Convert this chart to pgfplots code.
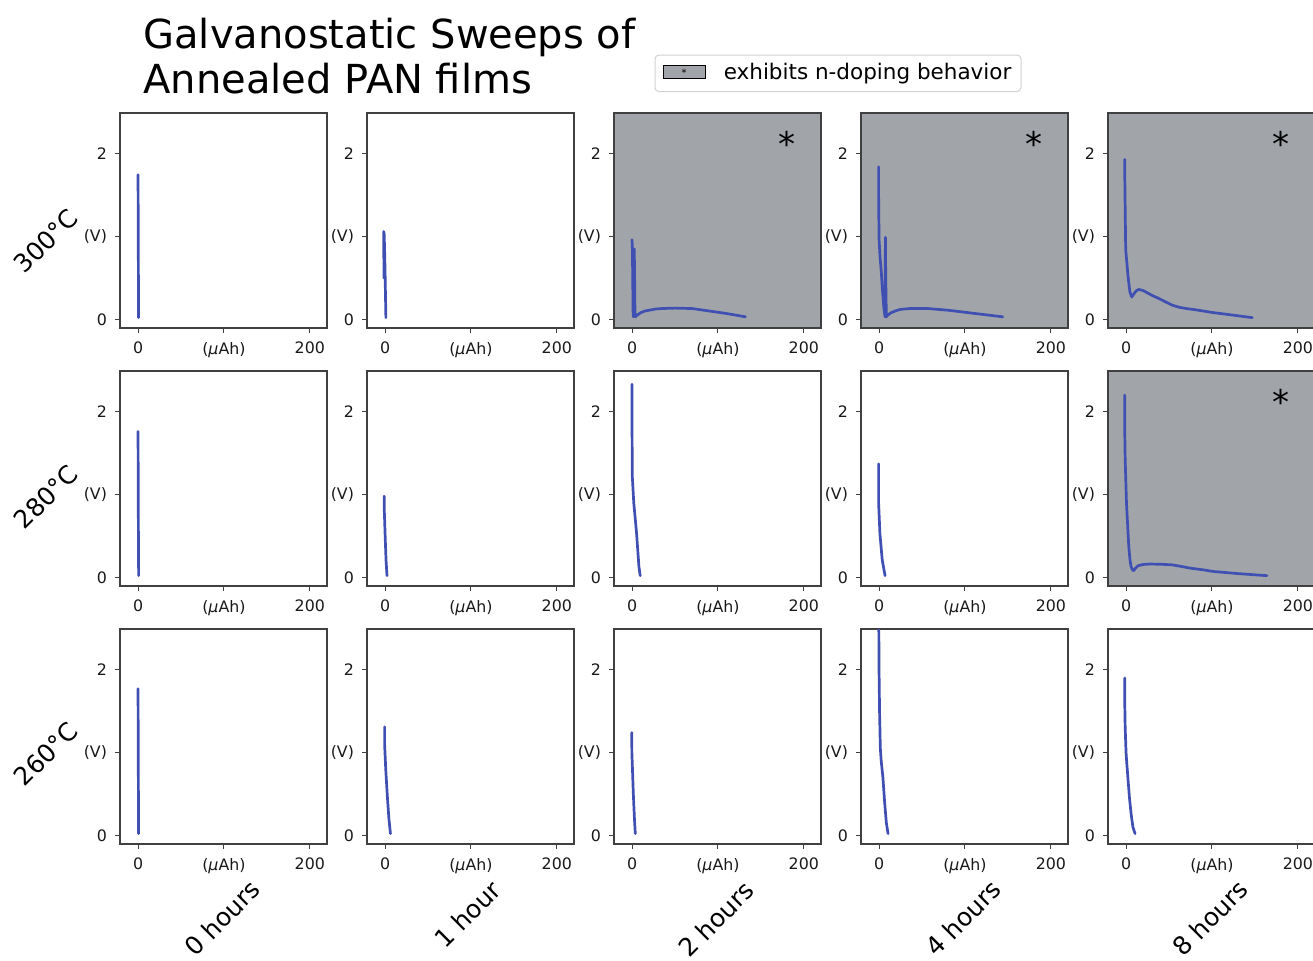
\documentclass[border=0pt]{standalone}
\usepackage{fontspec}
\setmainfont{DejaVu Sans}
\usepackage{pgfplots}
\pgfplotsset{compat=1.18}
\definecolor{lc}{RGB}{64,80,178}
\definecolor{ngray}{RGB}{161,164,169}
\pgfplotsset{
  panel/.style={
    width=103.5pt, height=107.5pt, scale only axis,
    anchor=north west,
    xmin=-21, xmax=220, ymin=-0.105, ymax=2.49,
    xtick={0,100,200}, xticklabels={0,(\textit{μ}Ah),200},
    ytick={0,1,2}, yticklabels={0,(V),2},
    tick pos=left, tick align=outside, major tick length=2.5pt,
    axis line style={black!75, line width=0.6pt},
    every tick/.style={black!75, line width=0.5pt},
    ticklabel style={font=\fontsize{7.9}{9}\selectfont, black!90},
    xticklabel style={yshift=-1pt},
    yticklabel style={xshift=-0.5pt},
    clip=true,
  },
  shaded/.style={axis background/.style={fill=ngray}},
  crv/.style={color=lc, line width=1.35pt, line join=round, line cap=round, no marks},
}
\newcommand{\ndstar}{\node[font=\fontsize{17}{17}\selectfont] at (axis cs:180,2.12) {*};}
\begin{document}
\begin{tikzpicture}
\path[use as bounding box] (0,0) rectangle (656.5pt,-480pt);
% title
\node[anchor=base west, font=\fontsize{20}{22}\selectfont, inner sep=0pt] at (71.5pt,-24.2pt) {Galvanostatic Sweeps of};
\node[anchor=base west, font=\fontsize{20}{22}\selectfont, inner sep=0pt] at (71.5pt,-46.7pt) {Annealed PAN films};
% legend
\draw[rounded corners=2pt, black!18, line width=0.5pt, fill=white] (327.5pt,-27.5pt) rectangle (510.5pt,-45.8pt);
\draw[draw=black, fill=ngray, line width=0.5pt] (331.7pt,-32.5pt) rectangle (352.5pt,-39.2pt);
\node[font=\fontsize{5}{5}\selectfont, inner sep=0pt] at (342.1pt,-36.3pt) {*};
\node[anchor=base west, font=\fontsize{10.75}{12}\selectfont, inner sep=0pt] at (361.7pt,-39.7pt) {exhibits n-doping behavior};
% row labels
\node[rotate=45, font=\fontsize{12.5}{14}\selectfont, inner sep=0pt] at (23pt,-120.5pt) {300°C};
\node[rotate=45, font=\fontsize{12.5}{14}\selectfont, inner sep=0pt] at (23pt,-248.5pt) {280°C};
\node[rotate=45, font=\fontsize{12.5}{14}\selectfont, inner sep=0pt] at (23pt,-377pt) {260°C};
% column labels
\node[rotate=45, font=\fontsize{12.5}{14}\selectfont, inner sep=0pt] at (111pt,-459pt) {0 hours};
\node[rotate=45, font=\fontsize{12.5}{14}\selectfont, inner sep=0pt] at (234pt,-457pt) {1 hour};
\node[rotate=45, font=\fontsize{12.5}{14}\selectfont, inner sep=0pt] at (358pt,-459.5pt) {2 hours};
\node[rotate=45, font=\fontsize{12.5}{14}\selectfont, inner sep=0pt] at (481.5pt,-459pt) {4 hours};
\node[rotate=45, font=\fontsize{12.5}{14}\selectfont, inner sep=0pt] at (605pt,-459pt) {8 hours};

% ===== Row 1: 300 C =====
\begin{axis}[panel, at={(60pt,-56.5pt)}]
\addplot[crv] coordinates {(0,1.745) (0.2,1.2) (0.4,0.6) (0.6,0.02)};
\end{axis}
\begin{axis}[panel, at={(183.5pt,-56.5pt)}]
\addplot[crv] coordinates {(-1.5,1.06) (-1.3,0.5) (-1.1,1.05) (-0.6,0.88) (0,0.6) (0.5,0.3) (1,0.02)};
\end{axis}
\begin{axis}[panel, shaded, at={(307pt,-56.5pt)}]
\addplot[crv] coordinates {(0,0.96) (0.4,0.85) (0.8,0.5) (1.2,0.1) (1.6,0.03) (2.2,0.6) (2.6,0.85) (3.0,0.5) (3.4,0.1) (4,0.03) (6,0.05) (10,0.08) (15,0.1) (20,0.11) (28,0.125) (35,0.13) (50,0.135) (70,0.13) (90,0.1) (110,0.07) (132,0.03)};
\ndstar
\end{axis}
\begin{axis}[panel, shaded, at={(430.5pt,-56.5pt)}]
\addplot[crv] coordinates {(-0.5,1.84) (-0.5,1.5) (0,0.97) (1.2,0.75) (2.7,0.56) (4,0.35) (5.5,0.15) (7,0.03) (7.4,0.99) (7.8,0.5) (8.5,0.03) (10,0.05) (14,0.08) (20,0.105) (25,0.12) (36,0.13) (57,0.13) (80,0.11) (100,0.085) (120,0.06) (144,0.03)};
\ndstar
\end{axis}
\begin{axis}[panel, shaded, at={(554pt,-56.5pt)}]
\addplot[crv] coordinates {(-1.5,1.93) (-1.5,1.77) (-1.2,1.5) (-0.4,0.84) (1,0.68) (2.3,0.52) (4.5,0.33) (6.6,0.27) (8,0.29) (10,0.32) (12.5,0.35) (15,0.36) (19,0.35) (23,0.33) (30,0.29) (38.5,0.25) (46,0.21) (54,0.17) (62,0.145) (70,0.13) (81,0.115) (102,0.08) (125,0.05) (147,0.02)};
\ndstar
\end{axis}

% ===== Row 2: 280 C =====
\begin{axis}[panel, at={(60pt,-185.5pt)}]
\addplot[crv] coordinates {(0,1.76) (0.2,1.2) (0.4,0.6) (0.7,0.02)};
\end{axis}
\begin{axis}[panel, at={(183.5pt,-185.5pt)}]
\addplot[crv] coordinates {(-1,0.98) (-1,0.85) (-0.5,0.7) (0.3,0.45) (1.2,0.2) (2.3,0.02)};
\end{axis}
\begin{axis}[panel, at={(307pt,-185.5pt)}]
\addplot[crv] coordinates {(0,2.33) (0,1.83) (0.3,1.22) (2,0.9) (5.3,0.53) (8,0.13) (9.5,0.02)};
\end{axis}
\begin{axis}[panel, at={(430.5pt,-185.5pt)}]
\addplot[crv] coordinates {(-0.5,1.37) (-0.5,0.9) (1,0.53) (3.7,0.21) (7,0.02)};
\end{axis}
\begin{axis}[panel, shaded, at={(554pt,-185.5pt)}]
\addplot[crv] coordinates {(-1.6,2.2) (-1.6,1.83) (-1,1.42) (0.5,0.9) (2,0.6) (3.2,0.37) (4.5,0.22) (5.8,0.13) (7.5,0.09) (9,0.08) (11,0.11) (14,0.14) (20,0.155) (27.6,0.16) (40,0.158) (54,0.15) (65,0.13) (75,0.11) (90,0.09) (102,0.07) (130,0.045) (164,0.02)};
\ndstar
\end{axis}

% ===== Row 3: 260 C =====
\begin{axis}[panel, at={(60pt,-314.5pt)}]
\addplot[crv] coordinates {(0,1.77) (0.2,1.2) (0.4,0.6) (0.6,0.02)};
\end{axis}
\begin{axis}[panel, at={(183.5pt,-314.5pt)}]
\addplot[crv] coordinates {(-0.5,1.31) (-0.5,1.1) (0.8,0.8) (2.5,0.5) (4.5,0.2) (6.3,0.02)};
\end{axis}
\begin{axis}[panel, at={(307pt,-314.5pt)}]
\addplot[crv] coordinates {(-0.3,1.24) (-0.2,1.0) (0.5,0.8) (1.5,0.5) (2.8,0.2) (3.8,0.02)};
\end{axis}
\begin{axis}[panel, at={(430.5pt,-314.5pt)}]
\addplot[crv] coordinates {(-0.3,2.6) (0,2.0) (0.6,1.5) (1.5,1.05) (2.5,0.9) (4.5,0.7) (6.5,0.4) (8.5,0.15) (10.5,0.02)};
\end{axis}
\begin{axis}[panel, at={(554pt,-314.5pt)}]
\addplot[crv] coordinates {(-1.5,1.9) (-1.5,1.6) (-1,1.3) (0,1.0) (1,0.85) (2.5,0.65) (4,0.45) (6,0.25) (8,0.1) (10.5,0.02)};
\end{axis}
\end{tikzpicture}
\end{document}
